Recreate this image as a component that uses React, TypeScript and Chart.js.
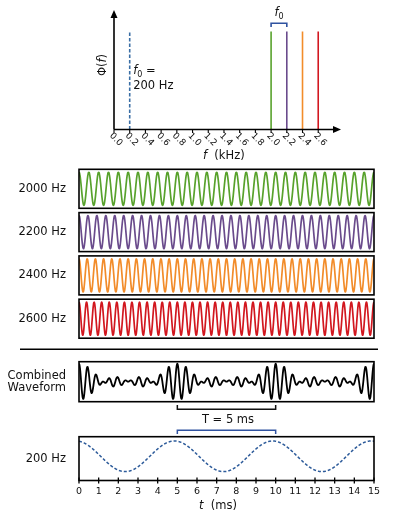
import React, { useEffect, useRef } from "react";
import { Chart, registerables } from "chart.js";

Chart.register(...registerables);

// ---------------- data ----------------
const spectrumTickValuesKHz = [0, 0.2, 0.4, 0.6, 0.8, 1.0, 1.2, 1.4, 1.6, 1.8, 2.0, 2.2, 2.4, 2.6];
const spectrumTickLabels = ["0.0", "0.2", "0.4", "0.6", "0.8", "1.0", "1.2", "1.4", "1.6", "1.8", "2.0", "2.2", "2.4", "2.6"];
const toneFrequenciesHz = [2000, 2200, 2400, 2600];
const toneAmplitudes = [1, 1, 1, 1];
const toneLabels = ["2000 Hz", "2200 Hz", "2400 Hz", "2600 Hz"];
const toneColors = ["#58a22c", "#6a4b8c", "#f28c2a", "#d2171f"];
const fundamentalHz = 200;
const fundamentalAmplitude = 1;
const fundamentalLabel = "200 Hz";
const fundamentalPeakMs = 4.85;
const timeSpanMs = [0, 15];
const timeTickValuesMs = [0, 1, 2, 3, 4, 5, 6, 7, 8, 9, 10, 11, 12, 13, 14, 15];
const timeTickLabels = ["0", "1", "2", "3", "4", "5", "6", "7", "8", "9", "10", "11", "12", "13", "14", "15"];
const periodBracketMs = [5, 10];
const periodLabel = "T = 5 ms";
const combinedLabel = ["Combined", "Waveform"];

// ---------------- tables built for the library ----------------
const SAMPLES = 1200;
const sampleTimesMs = Array.from({ length: SAMPLES + 1 }, (_, i) => timeSpanMs[0] + ((timeSpanMs[1] - timeSpanMs[0]) * i) / SAMPLES);
const toneSeries = toneFrequenciesHz.map((f, k) =>
  sampleTimesMs.map((t) => ({ x: t, y: toneAmplitudes[k] * Math.cos((2 * Math.PI * f * t) / 1000) }))
);
const combinedSeries = sampleTimesMs.map((t, i) => ({ x: t, y: toneSeries.reduce((s, ser) => s + ser[i].y, 0) }));
const fundamentalSeries = sampleTimesMs.map((t) => ({
  x: t,
  y: fundamentalAmplitude * Math.cos((2 * Math.PI * fundamentalHz * (t - fundamentalPeakMs)) / 1000),
}));

// ---------------- helpers ----------------
const FONT = '"DejaVu Sans"';
const TEXT = "#111";
const BLUE = "#2f52a0";

type Run = { text: string; italic?: boolean; size?: number; dy?: number };
function drawRuns(ctx: CanvasRenderingContext2D, runs: Run[], x: number, y: number, align: "left" | "center" | "right", base: number) {
  const fontOf = (r: Run) => `${r.italic ? "italic " : ""}${r.size ?? base}px ${FONT}`;
  let total = 0;
  const widths = runs.map((r) => {
    ctx.font = fontOf(r);
    const w = ctx.measureText(r.text).width;
    total += w;
    return w;
  });
  let cx = align === "left" ? x : align === "center" ? x - total / 2 : x - total;
  ctx.textAlign = "left";
  ctx.textBaseline = "middle";
  ctx.fillStyle = TEXT;
  runs.forEach((r, i) => {
    ctx.font = fontOf(r);
    ctx.fillText(r.text, cx, y + (r.dy ?? 0));
    cx += widths[i];
  });
}

function drawBox(c: any) {
  const { left, top, right, bottom } = c.chartArea;
  const ctx = c.ctx as CanvasRenderingContext2D;
  ctx.save();
  ctx.strokeStyle = "#000";
  ctx.lineWidth = 1.6;
  ctx.strokeRect(left, top, right - left, bottom - top);
  ctx.restore();
}

type PanelProps = {
  canvasTop: number;
  canvasHeight: number;
  padding: { left: number; right: number; top: number; bottom: number };
  datasets: any[];
  xRange: number[];
  yRange: number[];
  draw: (c: any, ctx: CanvasRenderingContext2D, toY: (pageY: number) => number) => void;
};

function Panel({ canvasTop, canvasHeight, padding, datasets, xRange, yRange, draw }: PanelProps) {
  const ref = useRef<HTMLCanvasElement | null>(null);
  useEffect(() => {
    const chart = new Chart(ref.current as HTMLCanvasElement, {
      type: "line",
      data: { datasets },
      options: {
        animation: false,
        responsive: false,
        maintainAspectRatio: false,
        devicePixelRatio: 1,
        events: [],
        layout: { padding },
        plugins: { legend: { display: false }, tooltip: { enabled: false } },
        elements: { point: { radius: 0 }, line: { tension: 0 } },
        scales: {
          x: { type: "linear", min: xRange[0], max: xRange[1], display: false },
          y: { type: "linear", min: yRange[0], max: yRange[1], display: false },
        },
      } as any,
      plugins: [
        {
          id: "deco",
          afterDraw(c: any) {
            const ctx = c.ctx as CanvasRenderingContext2D;
            ctx.save();
            draw(c, ctx, (py: number) => py - canvasTop);
            ctx.restore();
          },
        },
      ],
    });
    return () => chart.destroy();
  }, []);
  return (
    <canvas
      ref={ref}
      width={394}
      height={canvasHeight}
      style={{ position: "absolute", left: 0, top: canvasTop, width: 394, height: canvasHeight, display: "block" }}
    />
  );
}

const PANEL_LEFT = 79;
const PANEL_RIGHT_PAD = 394 - 374;
const LABEL_X = 66;

// ---------------- spectrum ----------------
const spectrumDatasets = [
  {
    data: [
      { x: fundamentalHz / 1000, y: 0 },
      { x: fundamentalHz / 1000, y: fundamentalAmplitude },
    ],
    borderColor: "#3a6ea5",
    borderWidth: 1.6,
    borderDash: [3.5, 2],
    pointRadius: 0,
  },
  ...toneFrequenciesHz.map((f, k) => ({
    data: [
      { x: f / 1000, y: 0 },
      { x: f / 1000, y: toneAmplitudes[k] },
    ],
    borderColor: toneColors[k],
    borderWidth: 1.6,
    pointRadius: 0,
  })),
];

function drawSpectrum(c: any, ctx: CanvasRenderingContext2D) {
  const xs = c.scales.x;
  const ys = c.scales.y;
  const { top, right } = c.chartArea;
  const x0 = xs.getPixelForValue(0);
  const yb = ys.getPixelForValue(0);
  ctx.strokeStyle = "#000";
  ctx.fillStyle = "#000";
  ctx.lineWidth = 1.6;
  // x axis + arrow
  ctx.beginPath();
  ctx.moveTo(x0, yb);
  ctx.lineTo(right - 5, yb);
  ctx.stroke();
  ctx.beginPath();
  ctx.moveTo(right, yb);
  ctx.lineTo(right - 8, yb - 3.5);
  ctx.lineTo(right - 8, yb + 3.5);
  ctx.closePath();
  ctx.fill();
  // y axis + arrow
  ctx.beginPath();
  ctx.moveTo(x0, yb);
  ctx.lineTo(x0, top + 5);
  ctx.stroke();
  ctx.beginPath();
  ctx.moveTo(x0, top);
  ctx.lineTo(x0 - 3.5, top + 8);
  ctx.lineTo(x0 + 3.5, top + 8);
  ctx.closePath();
  ctx.fill();
  // ticks + rotated labels
  ctx.lineWidth = 1.1;
  spectrumTickValuesKHz.forEach((v, i) => {
    const px = xs.getPixelForValue(v);
    ctx.beginPath();
    ctx.moveTo(px, yb);
    ctx.lineTo(px, yb + 3.5);
    ctx.stroke();
    ctx.save();
    ctx.translate(px + 2, yb + 10);
    ctx.rotate(Math.PI / 4);
    ctx.font = `9px ${FONT}`;
    ctx.fillStyle = TEXT;
    ctx.textAlign = "center";
    ctx.textBaseline = "middle";
    ctx.fillText(spectrumTickLabels[i], 0, 0);
    ctx.restore();
  });
  // axis title
  drawRuns(ctx, [{ text: "f", italic: true }, { text: "  (kHz)" }], x0 + 89, 156, "left", 11.5);
  // y title
  ctx.save();
  ctx.translate(x0 - 11, 65);
  ctx.rotate(-Math.PI / 2);
  drawRuns(ctx, [{ text: "Φ(" }, { text: "f", italic: true }, { text: ")" }], 0, 0, "center", 11.5);
  ctx.restore();
  // f0 = 200 Hz annotation
  const pf = xs.getPixelForValue(fundamentalHz / 1000);
  drawRuns(
    ctx,
    [{ text: "f", italic: true }, { text: "0", size: 8, dy: 3 }, { text: " =" }],
    pf + 3.5,
    71.5,
    "left",
    11.5
  );
  drawRuns(ctx, [{ text: fundamentalLabel }], pf + 3.5, 86, "left", 11.5);
  // f0 bracket between first two tones
  const pa = xs.getPixelForValue(toneFrequenciesHz[0] / 1000);
  const pb = xs.getPixelForValue(toneFrequenciesHz[1] / 1000);
  ctx.strokeStyle = BLUE;
  ctx.lineWidth = 1.6;
  ctx.beginPath();
  ctx.moveTo(pa, 27);
  ctx.lineTo(pa, 23.3);
  ctx.lineTo(pb, 23.3);
  ctx.lineTo(pb, 27);
  ctx.stroke();
  drawRuns(ctx, [{ text: "f", italic: true }, { text: "0", size: 8, dy: 3 }], (pa + pb) / 2, 13.5, "center", 11.5);
}

// ---------------- tone panels ----------------
const toneTops = [169.3, 212.6, 255.9, 299.2];
const TONE_H = 39;

function waveDataset(data: any[], color: string, width: number, extra: any = {}) {
  return { data, borderColor: color, borderWidth: width, pointRadius: 0, tension: 0.3, borderJoinStyle: "round", ...extra };
}

function tonePanel(k: number) {
  const canvasTop = Math.floor(toneTops[k]) - 5;
  const canvasHeight = TONE_H + 12;
  const padTop = toneTops[k] - canvasTop;
  return (
    <Panel
      key={k}
      canvasTop={canvasTop}
      canvasHeight={canvasHeight}
      padding={{ left: PANEL_LEFT, right: PANEL_RIGHT_PAD, top: padTop, bottom: canvasHeight - padTop - TONE_H }}
      datasets={[waveDataset(toneSeries[k], toneColors[k], 1.7)]}
      xRange={timeSpanMs}
      yRange={[-1.18, 1.18]}
      draw={(c, ctx) => {
        drawBox(c);
        const { top, bottom } = c.chartArea;
        drawRuns(ctx, [{ text: toneLabels[k] }], LABEL_X, (top + bottom) / 2, "right", 11.5);
      }}
    />
  );
}

// ---------------- app ----------------
export default function App() {
  return (
    <div style={{ position: "fixed", left: 0, top: 0, width: 394, height: 512, background: "#fff", overflow: "hidden" }}>
      <Panel
        canvasTop={0}
        canvasHeight={168}
        padding={{ left: 114, right: 394 - 341, top: 10, bottom: 168 - 129.5 }}
        datasets={spectrumDatasets}
        xRange={[0, 2.89]}
        yRange={[0, 1.22]}
        draw={(c, ctx) => drawSpectrum(c, ctx)}
      />
      {toneFrequenciesHz.map((_, k) => tonePanel(k))}
      {/* combined */}
      <Panel
        canvasTop={345}
        canvasHeight={90}
        padding={{ left: PANEL_LEFT, right: PANEL_RIGHT_PAD, top: 361.7 - 345, bottom: 435 - 401.7 }}
        datasets={[waveDataset(combinedSeries, "#000", 1.8)]}
        xRange={timeSpanMs}
        yRange={[-4.44, 4.44]}
        draw={(c, ctx, toY) => {
          drawBox(c);
          const xs = c.scales.x;
          const { top, bottom } = c.chartArea;
          const mid = (top + bottom) / 2;
          drawRuns(ctx, [{ text: combinedLabel[0] }], LABEL_X, mid - 5.5, "right", 11.5);
          drawRuns(ctx, [{ text: combinedLabel[1] }], LABEL_X, mid + 6.5, "right", 11.5);
          // separator
          ctx.strokeStyle = "#000";
          ctx.lineWidth = 1.4;
          ctx.beginPath();
          ctx.moveTo(20, toY(349.3));
          ctx.lineTo(378, toY(349.3));
          ctx.stroke();
          // period bracket
          const p1 = xs.getPixelForValue(periodBracketMs[0]);
          const p2 = xs.getPixelForValue(periodBracketMs[1]);
          ctx.strokeStyle = "#111";
          ctx.lineWidth = 1.5;
          ctx.beginPath();
          ctx.moveTo(p1, toY(405));
          ctx.lineTo(p1, toY(409.3));
          ctx.lineTo(p2, toY(409.3));
          ctx.lineTo(p2, toY(405));
          ctx.stroke();
          drawRuns(ctx, [{ text: periodLabel }], (p1 + p2) / 2 + 1.5, toY(420.5), "center", 11.5);
        }}
      />
      {/* 200 Hz */}
      <Panel
        canvasTop={425}
        canvasHeight={87}
        padding={{ left: PANEL_LEFT, right: PANEL_RIGHT_PAD, top: 436.7 - 425, bottom: 512 - 480.5 }}
        datasets={[waveDataset(fundamentalSeries, "#2d5b9a", 1.5, { borderDash: [3, 2] })]}
        xRange={timeSpanMs}
        yRange={[-1.58, 1.28]}
        draw={(c, ctx, toY) => {
          drawBox(c);
          const xs = c.scales.x;
          const { top, bottom } = c.chartArea;
          drawRuns(ctx, [{ text: fundamentalLabel }], LABEL_X, (top + bottom) / 2, "right", 11.5);
          // blue bracket
          const p1 = xs.getPixelForValue(periodBracketMs[0]);
          const p2 = xs.getPixelForValue(periodBracketMs[1]);
          ctx.strokeStyle = BLUE;
          ctx.lineWidth = 1.5;
          ctx.beginPath();
          ctx.moveTo(p1, toY(434));
          ctx.lineTo(p1, toY(430.3));
          ctx.lineTo(p2, toY(430.3));
          ctx.lineTo(p2, toY(434));
          ctx.stroke();
          // ticks in-out
          ctx.strokeStyle = "#000";
          ctx.lineWidth = 1.3;
          timeTickValuesMs.forEach((v, i) => {
            const px = xs.getPixelForValue(v);
            ctx.beginPath();
            ctx.moveTo(px, bottom - 3);
            ctx.lineTo(px, bottom + 3);
            ctx.stroke();
            ctx.font = `9.5px ${FONT}`;
            ctx.fillStyle = TEXT;
            ctx.textAlign = "center";
            ctx.textBaseline = "middle";
            ctx.fillText(timeTickLabels[i], px, bottom + 11.5);
          });
          drawRuns(ctx, [{ text: "t", italic: true }, { text: "  (ms)" }], 199, toY(506), "left", 11.5);
        }}
      />
    </div>
  );
}
